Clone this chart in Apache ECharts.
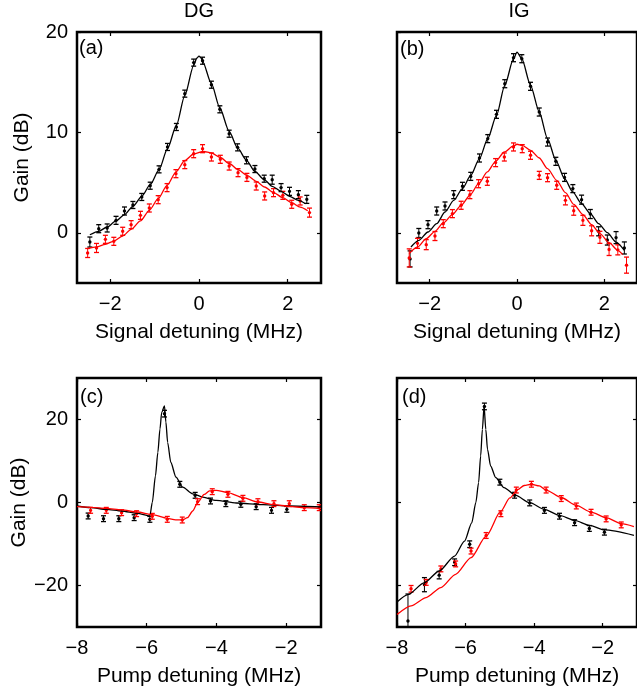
<!DOCTYPE html>
<html>
<head>
<meta charset="utf-8">
<script src="https://cdn.jsdelivr.net/npm/echarts@6/dist/echarts.min.js"></script>
<style>
  body { margin: 0; background: #fff; }
  #main { width: 637px; height: 693px; }
</style>
</head>
<body>
<div id="main"></div>
<script>
// measured points: [detuning, gain, error]
const aBlackPts = [[-2.46,-0.92,0.5],[-2.26,0.41,0.4],[-2.07,0.48,0.4],[-1.87,1.24,0.4],[-1.68,2.17,0.4],[-1.49,2.77,0.35],
  [-1.29,3.57,0.35],[-1.10,4.69,0.35],[-0.90,6.32,0.35],[-0.71,8.55,0.35],[-0.51,10.54,0.35],[-0.32,13.86,0.35],[-0.12,16.95,0.35],
  [0.08,17.14,0.35],[0.28,14.75,0.35],[0.47,12.30,0.35],[0.68,9.87,0.35],[0.87,8.51,0.35],[1.07,7.22,0.35],[1.26,6.35,0.35],
  [1.47,5.39,0.35],[1.65,5.29,0.45],[1.85,4.50,0.4],[2.04,4.13,0.4],[2.24,3.80,0.4],[2.43,3.33,0.4]];
const aRedPts = [[-2.51,-2.01,0.45],[-2.31,-1.51,0.45],[-2.11,-0.65,0.4],[-1.92,-0.85,0.4],[-1.72,0.15,0.4],[-1.53,0.81,0.4],
  [-1.32,1.74,0.4],[-1.12,2.47,0.4],[-0.92,3.30,0.4],[-0.72,4.50,0.4],[-0.52,5.89,0.4],[-0.32,6.79,0.4],[-0.12,7.88,0.4],
  [0.08,8.38,0.4],[0.28,7.55,0.4],[0.48,7.32,0.4],[0.68,6.65,0.4],[0.88,5.99,0.4],[1.08,5.52,0.4],[1.29,4.66,0.4],
  [1.48,3.67,0.4],[1.68,4.00,0.4],[1.89,3.73,0.4],[2.09,2.84,0.4],[2.28,3.17,0.4],[2.49,2.01,0.45]];
const aBlackFit = [[-2.46,-0.19],[-2.26,0.15],[-2.07,0.58],[-1.87,1.18],[-1.68,1.81],[-1.49,2.64],[-1.29,3.63],[-1.10,4.79],
  [-0.90,6.29],[-0.71,8.38],[-0.51,10.70],[-0.32,13.69],[-0.12,16.68],[-0.05,17.4],[0,17.6],[0.05,17.4],[0.08,17.08],
  [0.28,14.85],[0.47,12.43],[0.68,10.1],[0.87,8.45],[1.07,7.22],[1.26,6.12],[1.47,5.29],[1.65,4.63],[1.85,4.13],
  [2.04,3.63],[2.24,3.23],[2.40,2.90]];
const aRedFit = [[-2.51,-1.58],[-2.31,-1.41],[-2.11,-1.15],[-1.92,-0.82],[-1.72,-0.32],[-1.53,0.35],[-1.32,1.18],[-1.12,2.24],
  [-0.92,3.40],[-0.72,4.73],[-0.52,6.05],[-0.32,7.2],[-0.12,7.85],[0.1,8.1],[0.28,7.95],[0.48,7.5],[0.68,6.9],[0.88,6.3],
  [1.08,5.72],[1.29,5.13],[1.48,4.56],[1.68,4.0],[1.89,3.5],[2.09,3.0],[2.28,2.55],[2.45,2.2]];

const bBlackPts = [[-2.45,-2.6,0.8],[-2.25,-0.02,0.45],[-2.04,0.81,0.4],[-1.84,2.17,0.4],[-1.65,2.67,0.4],[-1.45,3.80,0.4],
  [-1.25,4.63,0.4],[-1.06,5.62,0.4],[-0.86,7.45,0.4],[-0.67,9.38,0.4],[-0.47,11.80,0.4],[-0.28,14.85,0.4],[-0.08,17.44,0.4],
  [0.11,17.34,0.4],[0.31,14.59,0.4],[0.51,12.03,0.4],[0.70,9.04,0.4],[0.89,7.12,0.4],[1.09,5.52,0.4],[1.28,4.40,0.4],
  [1.48,3.30,0.45],[1.68,1.87,0.45],[1.87,0.15,0.45],[2.07,-0.72,0.5],[2.27,-0.48,0.6],[2.46,-1.51,0.6]];
const bRedPts = [[-2.47,-2.5,0.9],[-2.28,-1.05,0.5],[-2.08,-1.18,0.5],[-1.88,-0.32,0.45],[-1.69,0.91,0.4],[-1.48,1.91,0.4],
  [-1.28,2.74,0.4],[-1.08,3.80,0.4],[-0.88,4.89,0.4],[-0.68,5.13,0.4],[-0.49,6.99,0.4],[-0.29,7.55,0.4],[-0.08,8.55,0.4],
  [0.12,8.38,0.4],[0.31,7.72,0.4],[0.51,5.72,0.4],[0.70,5.49,0.4],[0.91,4.73,0.4],[1.11,3.23,0.45],[1.30,2.20,0.45],
  [1.51,1.24,0.5],[1.71,0.2,0.5],[1.90,-0.45,0.6],[2.11,-1.66,0.6],[2.31,-1.7,0.5],[2.51,-3.22,0.8]];
const bBlackFit = [[-2.43,-1.41],[-2.25,-0.75],[-2.04,0.08],[-1.84,0.91],[-1.65,2.07],[-1.45,3.23],[-1.25,4.40],[-1.06,5.72],
  [-0.86,7.38],[-0.67,9.38],[-0.47,11.70],[-0.28,14.69],[-0.08,17.34],[0,18.0],[0.11,17.34],[0.31,14.69],[0.51,12.03],
  [0.70,9.38],[0.89,7.22],[1.09,5.39],[1.28,4.06],[1.48,2.90],[1.68,1.91],[1.87,0.91],[2.07,0.01],[2.27,-0.92],[2.46,-1.75]];
const bRedFit = [[-2.47,-2.08],[-2.28,-1.41],[-2.08,-0.58],[-1.88,0.15],[-1.69,0.98],[-1.48,1.81],[-1.28,2.74],[-1.08,3.73],
  [-0.88,4.89],[-0.68,6.06],[-0.49,7.12],[-0.29,8.05],[-0.08,8.65],[0,8.82],[0.12,8.71],[0.31,8.21],[0.51,7.45],[0.70,6.39],
  [0.91,5.23],[1.11,4.0],[1.30,2.84],[1.51,1.81],[1.71,0.81],[1.90,-0.09],[2.11,-0.98],[2.31,-1.75],[2.42,-2.18]];

const cBlackPts = [[-7.68,-3.25,0.7],[-7.24,-3.9,0.7],[-6.80,-3.9,0.7],[-6.36,-3.65,0.7],[-5.91,-4.06,0.7],[-5.49,21.41,0.8],
  [-5.05,4.38,0.7],[-4.61,1.73,0.7],[-4.17,0.36,0.7],[-3.73,-0.28,0.7],[-3.30,-0.44,0.7],[-2.86,-1.0,0.7],[-2.42,-1.89,0.7],[-1.98,-1.65,0.7]];
const cRedPts = [[-7.61,-1.89,0.7],[-7.16,-1.89,0.7],[-6.72,-2.45,0.7],[-6.29,-2.69,0.7],[-5.84,-3.33,0.7],[-5.41,-4.06,0.7],
  [-4.98,-4.22,0.7],[-4.54,0.20,0.7],[-4.12,2.61,0.7],[-3.67,1.97,0.7],[-3.24,1.01,0.7],[-2.81,0.20,0.7],[-2.35,-0.28,0.7],
  [-1.91,-0.28,0.7],[-1.48,-1.24,0.7],[-1.05,-1.24,0.7]];
const cBlackFit = [[-8.0,-0.84],[-7.6,-1.24],[-7.16,-1.65],[-6.72,-2.05],[-6.27,-2.61],[-5.91,-3.25],[-5.84,0],[-5.75,6.4],
  [-5.68,12.1],[-5.62,17.7],[-5.57,21.7],[-5.49,23.3],[-5.45,19.4],[-5.40,14.5],[-5.31,9.7],[-5.16,6.1],[-4.97,3.7],
  [-4.68,2.1],[-4.39,1.3],[-4.01,0.5],[-3.43,-0.12],[-2.66,-0.52],[-1.89,-0.84],[-1.0,-1.08]];
const cRedFit = [[-8.0,-1.0],[-7.6,-1.16],[-7.16,-1.4],[-6.72,-1.8],[-6.27,-2.29],[-5.84,-2.93],[-5.41,-3.81],[-5.17,-4.2],
  [-4.97,-4.2],[-4.83,-3.65],[-4.68,-2.05],[-4.54,-0.04],[-4.35,1.97],[-4.2,2.78],[-4.01,2.94],[-3.67,2.38],[-3.24,1.17],
  [-2.81,0.12],[-2.35,-0.52],[-1.91,-0.92],[-1.48,-1.24],[-1.0,-1.48]];

const dBlackPts = [[-7.68,-28.55,6.5],[-7.2,-19.8,1.7],[-6.77,-17.5,0.9],[-6.32,-14.4,0.8],[-5.88,-10.05,0.8],[-5.45,23.15,0.8],
  [-5.0,4.9,0.7],[-4.57,1.75,0.7],[-4.13,-0.1,0.7],[-3.70,-1.9,0.7],[-3.26,-3.3,0.7],[-2.82,-4.86,0.7],[-2.39,-6.25,0.7],[-1.95,-7.15,0.7]];
const dRedPts = [[-7.59,-20.8,0.8],[-7.15,-19.25,0.7],[-6.72,-16.0,0.7],[-6.29,-14.8,0.7],[-5.84,-11.7,0.7],[-5.4,-7.95,0.7],
  [-4.97,-2.7,0.7],[-4.52,3.0,0.7],[-4.08,4.4,0.7],[-3.65,3.0,0.7],[-3.21,0.95,0.7],[-2.77,-0.84,0.7],[-2.34,-2.35,0.7],
  [-1.90,-3.95,0.7],[-1.46,-5.4,0.7]];
const dBlackFit = [[-8.0,-24.0],[-7.68,-22.2],[-7.2,-19.3],[-6.77,-16.5],[-6.32,-12.9],[-6.03,-9.3],[-5.82,-4.9],[-5.7,0],
  [-5.62,4.8],[-5.56,11.2],[-5.51,17.6],[-5.46,23.2],[-5.41,17.6],[-5.36,12.8],[-5.27,8.8],[-5.12,6.0],[-4.88,3.6],
  [-4.55,1.77],[-4.13,-0.04],[-3.7,-1.65],[-3.26,-3.1],[-2.82,-4.3],[-2.39,-5.5],[-1.95,-6.6],[-1.09,-7.9]];
const dRedFit = [[-8.0,-27.0],[-7.59,-24.9],[-7.15,-22.9],[-6.72,-20.5],[-6.29,-17.3],[-5.84,-13.3],[-5.4,-8.1],[-4.97,-2.1],
  [-4.71,1.1],[-4.48,3.1],[-4.29,4.1],[-4.08,4.4],[-3.85,4.0],[-3.65,3.0],[-3.21,1.2],[-2.77,-0.68],[-2.34,-2.3],
  [-1.9,-3.65],[-1.46,-5.1],[-1.09,-5.8]];

const signalTicks = [-2, 0, 2];
const pumpTicks = [-8, -6, -4, -2];
const gainTicksTop = [0, 10, 20];
const gainTicksBottom = [-20, 0, 20];
const colTitles = ['DG', 'IG'];
const panelTags = ['(a)', '(b)', '(c)', '(d)'];

const FONT = 'Liberation Sans, Arial, Helvetica, sans-serif';
const panels = [
  { grid: { left: 77, top: 32, width: 244, height: 251 }, xr: [-2.75, 2.75], yr: [-5, 20], xt: signalTicks, yt: gainTicksTop,
    showY: true, xName: 'Signal detuning (MHz)', black: aBlackPts, red: aRedPts, blackFit: aBlackFit, redFit: aRedFit },
  { grid: { left: 397, top: 32, width: 244, height: 251 }, xr: [-2.75, 2.75], yr: [-5, 20], xt: signalTicks, yt: gainTicksTop,
    showY: false, xName: 'Signal detuning (MHz)', black: bBlackPts, red: bRedPts, blackFit: bBlackFit, redFit: bRedFit },
  { grid: { left: 77, top: 378, width: 244, height: 249 }, xr: [-8, -1], yr: [-30, 30], xt: pumpTicks, yt: gainTicksBottom,
    showY: true, xName: 'Pump detuning (MHz)', black: cBlackPts, red: cRedPts, blackFit: cBlackFit, redFit: cRedFit },
  { grid: { left: 397, top: 378, width: 244, height: 249 }, xr: [-8, -1], yr: [-30, 30], xt: pumpTicks, yt: gainTicksBottom,
    showY: false, xName: 'Pump detuning (MHz)', black: dBlackPts, red: dRedPts, blackFit: dBlackFit, redFit: dRedFit }
];

const minus = v => String(v).replace('-', '\u2212');

function errItem(params, api) {
  const x = api.value(0), y = api.value(1), e = api.value(2);
  const c = api.coord([x, y]);
  const hi = api.coord([x, y + e]);
  const lo = api.coord([x, y - e]);
  const col = api.visual('color');
  const w = 2.5;
  return {
    type: 'group',
    children: [
      { type: 'line', shape: { x1: c[0], y1: hi[1], x2: c[0], y2: lo[1] }, style: { stroke: col, lineWidth: 1 } },
      { type: 'line', shape: { x1: c[0] - w, y1: hi[1], x2: c[0] + w, y2: hi[1] }, style: { stroke: col, lineWidth: 1.3 } },
      { type: 'line', shape: { x1: c[0] - w, y1: lo[1], x2: c[0] + w, y2: lo[1] }, style: { stroke: col, lineWidth: 1.3 } },
      { type: 'circle', shape: { cx: c[0], cy: c[1], r: 1.7 }, style: { fill: col } }
    ]
  };
}

const grids = [], xAxes = [], yAxes = [], series = [];
panels.forEach((p, i) => {
  grids.push(Object.assign({ show: true, borderColor: '#000', borderWidth: 2.5, backgroundColor: '#fff', containLabel: false }, p.grid));
  const tick = { inside: true, length: 4, lineStyle: { color: '#000', width: 1.2 } };
  const noLine = { show: false, onZero: false };
  // bottom & top x axes
  xAxes.push({
    type: 'value', gridIndex: i, position: 'bottom', min: p.xr[0], max: p.xr[1],
    axisLine: noLine, splitLine: { show: false },
    axisTick: Object.assign({ customValues: p.xt }, tick),
    axisLabel: { customValues: p.xt, formatter: minus, color: '#000', fontSize: 20, fontFamily: FONT, margin: 11 },
    name: p.xName, nameLocation: 'middle', nameGap: 39,
    nameTextStyle: { color: '#000', fontSize: 21, fontFamily: FONT }
  });
  xAxes.push({
    type: 'value', gridIndex: i, position: 'top', min: p.xr[0], max: p.xr[1],
    axisLine: noLine, splitLine: { show: false },
    axisTick: Object.assign({ customValues: p.xt }, tick),
    axisLabel: { show: false }
  });
  yAxes.push({
    type: 'value', gridIndex: i, position: 'left', min: p.yr[0], max: p.yr[1],
    axisLine: noLine, splitLine: { show: false },
    axisTick: Object.assign({ customValues: p.yt }, tick),
    axisLabel: { show: p.showY, customValues: p.yt, formatter: minus, color: '#000', fontSize: 20, fontFamily: FONT, margin: 9 },
    name: p.showY ? 'Gain (dB)' : '', nameLocation: 'middle', nameGap: 44, nameRotate: 90,
    nameTextStyle: { color: '#000', fontSize: 21, fontFamily: FONT }
  });
  yAxes.push({
    type: 'value', gridIndex: i, position: 'right', min: p.yr[0], max: p.yr[1],
    axisLine: noLine, splitLine: { show: false },
    axisTick: Object.assign({ customValues: p.yt }, tick),
    axisLabel: { show: false }
  });
  const xi = i * 2, yi = i * 2;
  const fitLine = (data, color) => ({
    type: 'line', xAxisIndex: xi, yAxisIndex: yi, data: data, showSymbol: false, symbol: 'none',
    smooth: 0.25, smoothMonotone: 'x', clip: true, silent: true,
    lineStyle: { color: color, width: 1.3 }, itemStyle: { color: color }
  });
  const pts = (data, color) => ({
    type: 'custom', xAxisIndex: xi, yAxisIndex: yi, data: data, renderItem: errItem, clip: true,
    encode: { x: 0, y: 1 }, itemStyle: { color: color }, silent: true, z: 3
  });
  series.push(fitLine(p.blackFit, '#000'), fitLine(p.redFit, '#ff0000'), pts(p.black, '#000'), pts(p.red, '#ff0000'));
});

const graphics = [
  { type: 'text', x: 199, y: 11, style: { text: colTitles[0], font: '20px ' + FONT, fill: '#000', align: 'center', verticalAlign: 'middle' } },
  { type: 'text', x: 519, y: 11, style: { text: colTitles[1], font: '20px ' + FONT, fill: '#000', align: 'center', verticalAlign: 'middle' } },
  { type: 'text', x: 79, y: 48, style: { text: panelTags[0], font: '20px ' + FONT, fill: '#000', verticalAlign: 'middle' } },
  { type: 'text', x: 400, y: 49, style: { text: panelTags[1], font: '20px ' + FONT, fill: '#000', verticalAlign: 'middle' } },
  { type: 'text', x: 80, y: 397, style: { text: panelTags[2], font: '20px ' + FONT, fill: '#000', verticalAlign: 'middle' } },
  { type: 'text', x: 402, y: 397, style: { text: panelTags[3], font: '20px ' + FONT, fill: '#000', verticalAlign: 'middle' } }
];

const chart = echarts.init(document.getElementById('main'), null, { renderer: 'canvas' });
chart.setOption({
  animation: false,
  backgroundColor: '#fff',
  grid: grids,
  xAxis: xAxes,
  yAxis: yAxes,
  series: series,
  graphic: graphics
});
</script>
</body>
</html>
